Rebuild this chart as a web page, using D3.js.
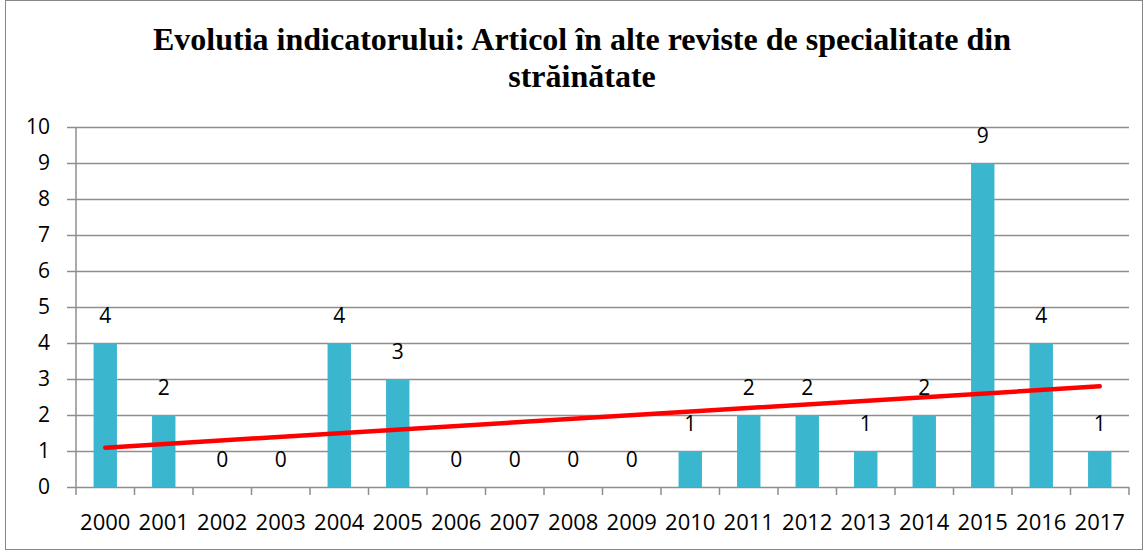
<!DOCTYPE html>
<html><head><meta charset="utf-8">
<script src="https://cdn.jsdelivr.net/npm/d3@7"></script>
<style>body{margin:0;background:#fff}svg{display:block}</style>
</head><body>
<script>
const years = ["2000","2001","2002","2003","2004","2005","2006","2007","2008","2009","2010","2011","2012","2013","2014","2015","2016","2017"];
const values = [4,2,0,0,4,3,0,0,0,0,1,2,2,1,2,9,4,1];
const yTicks = [0,1,2,3,4,5,6,7,8,9,10];
const titleLines = ["Evolutia indicatorului: Articol în alte reviste de specialitate din","străinătate"];

(function(){
const W=1145,H=551;
const svg=d3.select("body").append("svg").attr("width",W).attr("height",H);
svg.append("rect").attr("x",5.5).attr("y",0.5).attr("width",1137).attr("height",549).attr("fill","#fff").attr("stroke","#878787");

const pLeft=76,pRight=1129,pTop=127,pBottom=487;
const x=d3.scaleBand().domain(years).range([pLeft,pRight]).paddingInner(0.6).paddingOuter(0.3);
const xb=d3.scaleBand().domain(years).range([pLeft,pRight]);
const y=d3.scaleLinear().domain([0,10]).range([pBottom,pTop]);

svg.append("g").selectAll("line").data(yTicks).join("line")
 .attr("x1",pLeft-9).attr("x2",pRight).attr("y1",d=>y(d)+0.5).attr("y2",d=>y(d)+0.5)
 .attr("stroke","#8e8e8e").attr("stroke-width",1.5);
svg.append("line").attr("x1",pLeft).attr("x2",pLeft).attr("y1",pTop).attr("y2",pBottom).attr("stroke","#8e8e8e").attr("stroke-width",1.5);
const bounds=years.map(d=>xb(d)).concat([pRight]);
svg.append("g").selectAll("line").data(bounds).join("line")
 .attr("x1",d=>d).attr("x2",d=>d).attr("y1",pBottom).attr("y2",pBottom+8)
 .attr("stroke","#8e8e8e").attr("stroke-width",1.5);

const font="'Open Sans', 'Liberation Sans', sans-serif";
svg.append("g").selectAll("text").data(yTicks).join("text")
 .attr("x",50).attr("y",d=>y(d)).attr("dy","0.35em").attr("text-anchor","end")
 .attr("font-family",font).attr("font-size",21).text(d=>d);

svg.append("g").selectAll("rect").data(values).join("rect")
 .attr("x",(d,i)=>x(years[i])).attr("width",x.bandwidth())
 .attr("y",d=>y(d)).attr("height",d=>pBottom-y(d)).attr("fill","#3bb6cf");

svg.append("g").selectAll("text").data(values).join("text")
 .attr("x",(d,i)=>x(years[i])+x.bandwidth()/2).attr("y",d=>y(d)-20)
 .attr("text-anchor","middle").attr("font-family",font).attr("font-size",21).text(d=>d);

svg.append("g").selectAll("text").data(years).join("text")
 .attr("x",d=>xb(d)+xb.bandwidth()/2).attr("y",530).attr("text-anchor","middle")
 .attr("font-family",font).attr("font-size",22).text(d=>d);

const n=values.length, mx=d3.mean(values,(d,i)=>i), my=d3.mean(values);
const sxy=d3.sum(values,(d,i)=>(i-mx)*(d-my)), sxx=d3.sum(values,(d,i)=>(i-mx)*(i-mx));
const slope=sxy/sxx, icpt=my-slope*mx;
const trend=[0,n-1].map(i=>[xb(years[i])+xb.bandwidth()/2, y(icpt+slope*i)]);
svg.append("path").attr("d",d3.line()(trend)).attr("stroke","#ff0000").attr("stroke-width",4.5).attr("stroke-linecap","round").attr("fill","none");

svg.append("g").selectAll("text").data(titleLines).join("text")
 .attr("x",582).attr("y",(d,i)=>50+i*37).attr("text-anchor","middle")
 .attr("font-family","'Liberation Serif', 'Times New Roman', serif").attr("font-weight","bold")
 .attr("font-size",32).text(d=>d);
})();
</script>
</body></html>
